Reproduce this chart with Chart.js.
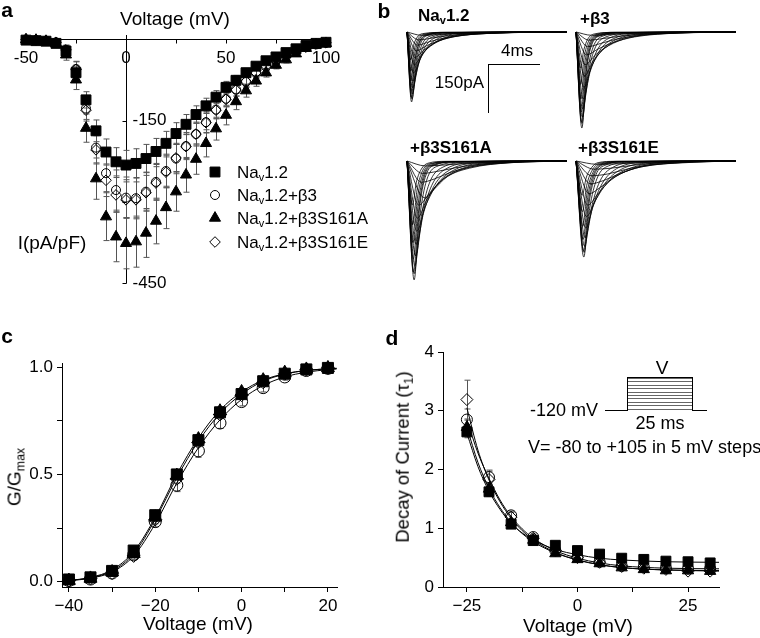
<!DOCTYPE html>
<html>
<head>
<meta charset="utf-8">
<script src="https://cdn.jsdelivr.net/npm/chart.js@4.4.1/dist/chart.umd.min.js"></script>
<style>
  html, body { margin: 0; padding: 0; background: #fff; }
  #page { position: relative; width: 760px; height: 638px; overflow: hidden;
          font-family: "Liberation Sans", Arial, sans-serif; color: #000; }
  canvas { position: absolute; }
  .t { position: absolute; white-space: nowrap; line-height: 1; }
  .c { transform: translate(-50%, -50%); }
  .l { transform: translate(0, -50%); }
  .r { transform: translate(-100%, -50%); }
  .rot { transform: translate(-50%, -50%) rotate(-90deg); }
  .b { font-weight: bold; }
  sub { font-size: 0.65em; vertical-align: -0.3em; line-height: 0; }
  .ln { position: absolute; border-color: #000; border-style: solid; border-width: 0; }
  .steps { position: absolute; border: 1px solid #000; border-bottom: none;
           background: repeating-linear-gradient(to bottom, #666 0px, #666 1px, #fff 1px, #fff 3.4px); }
</style>
</head>
<body>
<div id="page">
  <canvas id="chartA" width="380" height="300" style="left:0px;top:0px"></canvas>
  <canvas id="chartB1" width="166" height="140" style="left:404px;top:29px"></canvas>
  <canvas id="chartB2" width="166" height="140" style="left:573px;top:29px"></canvas>
  <canvas id="chartB3" width="166" height="140" style="left:404px;top:158px"></canvas>
  <canvas id="chartB4" width="166" height="140" style="left:573px;top:158px"></canvas>
  <canvas id="chartC" width="380" height="318" style="left:0px;top:320px"></canvas>
  <canvas id="chartD" width="370" height="318" style="left:390px;top:320px"></canvas>

  <!-- panel letters -->
  <div class="t c b" style="left:7px;top:9px;font-size:21px">a</div>
  <div class="t c b" style="left:384px;top:10px;font-size:21px">b</div>
  <div class="t c b" style="left:7px;top:335px;font-size:21px">c</div>
  <div class="t c b" style="left:392px;top:337px;font-size:21px">d</div>

  <!-- panel a -->
  <div class="t c" style="left:175px;top:18px;font-size:19px">Voltage (mV)</div>
  <div class="t c" style="left:52px;top:242px;font-size:19px">I(pA/pF)</div>
  <div class="t l" style="left:237px;top:172px;font-size:17px">Na<sub>v</sub>1.2</div>
  <div class="t l" style="left:237px;top:195px;font-size:17px">Na<sub>v</sub>1.2+β3</div>
  <div class="t l" style="left:237px;top:218px;font-size:17px">Na<sub>v</sub>1.2+β3S161A</div>
  <div class="t l" style="left:237px;top:242px;font-size:17px">Na<sub>v</sub>1.2+β3S161E</div>

  <!-- panel b -->
  <div class="t l b" style="left:418px;top:15px;font-size:17px">Na<sub>v</sub>1.2</div>
  <div class="t l b" style="left:580px;top:18px;font-size:17px">+β3</div>
  <div class="t l b" style="left:410px;top:147px;font-size:17px">+β3S161A</div>
  <div class="t l b" style="left:578px;top:147px;font-size:17px">+β3S161E</div>
  <div class="ln" style="left:488px;top:64px;width:52px;border-top-width:1.5px"></div>
  <div class="ln" style="left:488px;top:64px;height:49px;border-left-width:1.5px"></div>
  <div class="t c" style="left:517px;top:50px;font-size:17px">4ms</div>
  <div class="t r" style="left:484px;top:82px;font-size:17px">150pA</div>

  <!-- panel c -->
  <div class="t c" style="left:198px;top:623px;font-size:19px">Voltage (mV)</div>
  <div class="t rot" style="left:14px;top:477px;font-size:19px">G/G<sub>max</sub></div>

  <!-- panel d -->
  <div class="t c" style="left:578px;top:625px;font-size:19px">Voltage (mV)</div>
  <div class="t rot" style="left:403px;top:457px;font-size:18.5px">Decay of Current (τ<sub>1</sub>)</div>
  <div class="t c" style="left:662px;top:367px;font-size:19px">V</div>
  <div class="ln" style="left:605px;top:410px;width:22px;border-top-width:1px"></div>
  <div class="steps" style="left:627px;top:377px;width:64px;height:33px"></div>
  <div class="ln" style="left:692px;top:410px;width:15px;border-top-width:1px"></div>
  <div class="t r" style="left:598px;top:410px;font-size:18px">-120 mV</div>
  <div class="t c" style="left:660px;top:423px;font-size:18px">25 ms</div>
  <div class="t l" style="left:528px;top:447px;font-size:18px">V= -80 to +105 in 5 mV steps</div>
</div>

<script>
// ---------- panel a : current-voltage
const ivVolts = [-50,-45,-40,-35,-30,-25,-20,-15,-10,-5,0,5,10,15,20,25,30,35,40,45,50,55,60,65,70,75,80,85,90,95,100];
const ivNav   = [-2,-3,-4,-8,-22,-62,-112,-169,-208,-226,-232,-229,-220,-207,-192,-174,-157,-139,-123,-107,-89,-76,-62,-50,-40,-33,-25,-18,-12,-8,-6];
const ivB3    = [-1,-2,-3,-6,-20,-55,-128,-200,-247,-278,-292,-293,-281,-263,-243,-220,-197,-175,-153,-130,-110,-93,-79,-63,-51,-40,-32,-23,-15,-10,-7];
const ivS161A = [-1,-2,-4,-8,-29,-75,-164,-257,-327,-364,-376,-373,-357,-335,-310,-281,-250,-221,-192,-165,-140,-115,-95,-77,-62,-48,-38,-27,-17,-11,-8];
const ivS161E = [-1,-2,-3,-6,-20,-56,-131,-204,-260,-287,-296,-296,-283,-265,-245,-219,-198,-175,-154,-131,-111,-94,-78,-62,-50,-40,-31,-22,-15,-9,-7];
const ivNavErr   = [2,2,2,4,8,12,15,20,24,26,27,27,26,24,22,20,18,16,14,12,11,9,8,7,6,5,5,4,3,3,2];
const ivB3Err    = [2,2,2,4,8,14,20,28,34,37,38,38,36,34,31,28,25,22,20,17,15,12,10,9,7,6,5,4,3,3,2];
const ivS161AErr = [2,2,2,5,10,18,26,38,44,46,47,47,45,42,39,36,32,28,25,21,18,15,12,10,8,7,6,5,4,3,2];
const ivS161EErr = [2,2,2,4,9,14,20,26,30,32,33,33,32,30,28,25,22,20,18,15,13,11,9,8,7,6,5,4,3,3,2];
const ivXTicks  = [-50,-25,0,25,50,75,100];
const ivXLabels = [-50,0,50,100];
const ivYTicks  = [-150,-300,-450];
const ivYLabels = [-150,-450];

// ---------- panel b : current traces, [ms, pA]
const tracesNav = [
  [[0,0],[0.35,-214],[0.7,-90],[1.1,-30],[1.8,-8],[3,-2],[12.3,0]],
  [[0,0],[0.38,-205],[0.75,-95],[1.2,-35],[2,-10],[3.5,-2],[12.3,0]],
  [[0,0],[0.4,-190],[0.8,-100],[1.3,-40],[2.2,-12],[4,-3],[12.3,0]],
  [[0,0],[0.42,-170],[0.9,-95],[1.4,-45],[2.4,-14],[4.5,-3],[12.3,0]],
  [[0,0],[0.45,-150],[1.0,-85],[1.6,-45],[2.6,-16],[5,-3],[12.3,0]],
  [[0,0],[0.5,-125],[1.1,-75],[1.8,-42],[3,-16],[5.5,-4],[12.3,0]],
  [[0,0],[0.55,-100],[1.2,-65],[2,-38],[3.2,-16],[6,-4],[12.3,0]],
  [[0,0],[0.6,-78],[1.3,-55],[2.2,-32],[3.5,-15],[6.5,-4],[12.3,0]],
  [[0,0],[0.7,-58],[1.5,-42],[2.5,-26],[4,-12],[7,-3],[12.3,0]],
  [[0,0],[0.8,-40],[1.7,-30],[2.8,-19],[4.5,-9],[8,-2],[12.3,0]],
  [[0,0],[0.9,-24],[2,-18],[3.2,-11],[5,-5],[9,-1],[12.3,0]],
  [[0,0],[1.1,-10],[2.3,-8],[3.6,-5],[6,-2],[12.3,0]],
  [[0,0],[0.33,-200],[0.6,-95],[0.95,-35],[1.6,-9],[3,-2],[12.3,0]],
  [[0,0],[0.32,-180],[0.58,-90],[0.9,-35],[1.5,-9],[3,-2],[12.3,0]],
  [[0,0],[0.3,-150],[0.55,-75],[0.85,-30],[1.4,-8],[3,-2],[12.3,0]],
  [[0,0],[0.3,-120],[0.52,-60],[0.8,-25],[1.3,-7],[3,-1],[12.3,0]],
  [[0,0],[0.28,-85],[0.5,-42],[0.75,-18],[1.2,-5],[3,-1],[12.3,0]]
];
const tracesB3 = [
  [[0,0],[0.45,-294],[0.8,-120],[1.2,-40],[2,-10],[3.5,-2],[12.3,0]],
  [[0,0],[0.45,-280],[0.85,-130],[1.3,-48],[2.1,-12],[4,-2],[12.3,0]],
  [[0,0],[0.48,-260],[0.9,-135],[1.4,-55],[2.3,-15],[4.5,-3],[12.3,0]],
  [[0,0],[0.5,-235],[1.0,-130],[1.6,-58],[2.6,-18],[5,-3],[12.3,0]],
  [[0,0],[0.55,-205],[1.1,-120],[1.8,-58],[2.9,-20],[5.5,-4],[12.3,0]],
  [[0,0],[0.6,-170],[1.2,-105],[2,-55],[3.2,-21],[6,-4],[12.3,0]],
  [[0,0],[0.65,-135],[1.3,-90],[2.2,-50],[3.5,-21],[6.5,-4],[12.3,0]],
  [[0,0],[0.7,-100],[1.5,-70],[2.5,-42],[4,-18],[7,-4],[12.3,0]],
  [[0,0],[0.8,-70],[1.7,-52],[2.8,-33],[4.5,-15],[8,-3],[12.3,0]],
  [[0,0],[0.9,-45],[1.9,-35],[3.1,-22],[5,-10],[9,-2],[12.3,0]],
  [[0,0],[1.0,-25],[2.1,-20],[3.4,-13],[5.5,-6],[10,-1],[12.3,0]],
  [[0,0],[1.2,-10],[2.4,-8],[3.8,-5],[6,-2],[12.3,0]],
  [[0,0],[0.42,-275],[0.75,-125],[1.1,-45],[1.8,-11],[3.5,-2],[12.3,0]],
  [[0,0],[0.4,-245],[0.7,-115],[1.05,-42],[1.7,-10],[3.5,-2],[12.3,0]],
  [[0,0],[0.38,-205],[0.66,-98],[1.0,-38],[1.6,-9],[3,-2],[12.3,0]],
  [[0,0],[0.36,-160],[0.62,-78],[0.95,-30],[1.5,-8],[3,-1],[12.3,0]],
  [[0,0],[0.34,-110],[0.6,-55],[0.9,-22],[1.4,-6],[3,-1],[12.3,0]]
];
const tracesS161A = [
  [[0,0],[0.55,-364],[0.95,-150],[1.4,-50],[2.2,-12],[4,-2],[12.3,0]],
  [[0,0],[0.55,-345],[1.0,-165],[1.5,-60],[2.4,-15],[4.5,-3],[12.3,0]],
  [[0,0],[0.6,-320],[1.1,-170],[1.7,-70],[2.7,-20],[5,-3],[12.3,0]],
  [[0,0],[0.65,-290],[1.2,-165],[1.9,-75],[3,-24],[5.5,-4],[12.3,0]],
  [[0,0],[0.7,-255],[1.3,-155],[2.1,-75],[3.3,-27],[6,-5],[12.3,0]],
  [[0,0],[0.75,-215],[1.4,-140],[2.3,-72],[3.6,-28],[6.5,-5],[12.3,0]],
  [[0,0],[0.8,-175],[1.5,-120],[2.5,-65],[3.9,-28],[7,-5],[12.3,0]],
  [[0,0],[0.9,-135],[1.7,-100],[2.8,-55],[4.3,-25],[7.5,-5],[12.3,0]],
  [[0,0],[1.0,-100],[1.4,-113],[2.0,-90],[3.1,-48],[4.8,-22],[8,-5],[12.3,0]],
  [[0,0],[1.1,-65],[2.1,-55],[3.4,-34],[5.2,-16],[9,-3],[12.3,0]],
  [[0,0],[1.2,-38],[2.3,-32],[3.7,-21],[5.6,-10],[10,-2],[12.3,0]],
  [[0,0],[1.4,-15],[2.6,-13],[4,-9],[6,-4],[12.3,0]],
  [[0,0],[0.5,-340],[0.9,-150],[1.3,-52],[2.0,-13],[4,-2],[12.3,0]],
  [[0,0],[0.48,-300],[0.85,-135],[1.25,-48],[1.9,-12],[4,-2],[12.3,0]],
  [[0,0],[0.46,-250],[0.8,-115],[1.2,-42],[1.8,-10],[3.5,-2],[12.3,0]],
  [[0,0],[0.44,-195],[0.76,-92],[1.15,-34],[1.7,-9],[3.5,-2],[12.3,0]],
  [[0,0],[0.42,-135],[0.72,-65],[1.1,-25],[1.6,-7],[3,-1],[12.3,0]]
];
const tracesS161E = [
  [[0,0],[0.6,-294],[1.0,-130],[1.5,-45],[2.3,-12],[4,-2],[12.3,0]],
  [[0,0],[0.62,-280],[1.05,-145],[1.6,-55],[2.5,-15],[4.5,-3],[12.3,0]],
  [[0,0],[0.65,-260],[1.15,-150],[1.8,-65],[2.8,-20],[5,-3],[12.3,0]],
  [[0,0],[0.7,-235],[1.25,-145],[2,-70],[3.1,-24],[5.5,-4],[12.3,0]],
  [[0,0],[0.75,-205],[1.35,-135],[2.2,-70],[3.4,-27],[6,-5],[12.3,0]],
  [[0,0],[0.8,-170],[1.5,-120],[2.4,-66],[3.8,-28],[6.5,-5],[12.3,0]],
  [[0,0],[0.9,-135],[1.7,-100],[2.7,-58],[4.2,-26],[7,-5],[12.3,0]],
  [[0,0],[1.0,-100],[1.9,-80],[3,-48],[4.6,-22],[8,-5],[12.3,0]],
  [[0,0],[1.1,-70],[2.1,-60],[3.4,-38],[5,-18],[9,-4],[12.3,0]],
  [[0,0],[1.2,-45],[2.4,-40],[3.8,-26],[5.6,-12],[10,-2],[12.3,0]],
  [[0,0],[1.4,-25],[2.7,-22],[4.2,-14],[6.2,-6],[12.3,0]],
  [[0,0],[1.6,-10],[3,-9],[4.6,-6],[7,-2],[12.3,0]],
  [[0,0],[0.58,-275],[0.95,-125],[1.4,-44],[2.1,-11],[4,-2],[12.3,0]],
  [[0,0],[0.55,-240],[0.9,-112],[1.35,-40],[2.0,-10],[4,-2],[12.3,0]],
  [[0,0],[0.52,-200],[0.86,-95],[1.3,-35],[1.9,-9],[3.5,-2],[12.3,0]],
  [[0,0],[0.5,-155],[0.82,-75],[1.25,-28],[1.8,-7],[3.5,-1],[12.3,0]],
  [[0,0],[0.48,-105],[0.78,-52],[1.2,-20],[1.7,-5],[3,-1],[12.3,0]]
];

// ---------- panel c : activation G/Gmax
const gvVolts  = [-40,-35,-30,-25,-20,-15,-10,-5,0,5,10,15,20];
const gvNav    = [0.01,0.02,0.05,0.145,0.31,0.50,0.66,0.79,0.875,0.935,0.97,0.99,0.997];
const gvB3     = [0.005,0.012,0.04,0.125,0.28,0.45,0.61,0.74,0.84,0.905,0.955,0.985,0.995];
const gvS161A  = [0.005,0.015,0.045,0.13,0.30,0.495,0.665,0.795,0.885,0.94,0.975,0.99,0.997];
const gvS161E  = [0.005,0.015,0.04,0.12,0.29,0.48,0.65,0.78,0.87,0.93,0.97,0.99,0.997];
const gvNavErr   = [0.005,0.008,0.01,0.015,0.02,0.02,0.02,0.02,0.015,0.01,0.01,0.005,0.003];
const gvB3Err    = [0.005,0.008,0.012,0.02,0.025,0.03,0.03,0.025,0.02,0.02,0.015,0.008,0.004];
const gvS161AErr = [0.005,0.008,0.01,0.015,0.02,0.02,0.02,0.02,0.015,0.01,0.01,0.005,0.003];
const gvS161EErr = [0.005,0.008,0.01,0.015,0.02,0.02,0.02,0.02,0.015,0.01,0.01,0.005,0.003];
const gvFitVolts = [-42,-40,-35,-30,-25,-20,-15,-10,-5,0,5,10,15,20,22];
const gvFitA = [0.004,0.006,0.02,0.055,0.14,0.30,0.50,0.67,0.80,0.885,0.94,0.97,0.985,0.993,0.995];
const gvFitB = [0.003,0.005,0.016,0.045,0.12,0.27,0.46,0.625,0.755,0.85,0.915,0.955,0.977,0.989,0.992];
const gvFitC = [0.004,0.006,0.018,0.05,0.13,0.29,0.485,0.655,0.785,0.875,0.935,0.968,0.985,0.993,0.995];
const gvXTicks = [-40,-30,-20,-10,0,10,20];
const gvXLabels = [-40,-20,0,20];
const gvYTicks = [0,0.25,0.5,0.75,1];
const gvYLabels = [0,0.5,1];

// ---------- panel d : decay time constant
const tauVolts  = [-25,-20,-15,-10,-5,0,5,10,15,20,25,30];
const tauNav    = [2.64,1.62,1.07,0.79,0.71,0.62,0.56,0.49,0.47,0.44,0.43,0.41];
const tauB3     = [2.85,1.87,1.22,0.85,0.62,0.51,0.43,0.36,0.34,0.32,0.31,0.31];
const tauS161A  = [2.72,1.67,1.10,0.80,0.57,0.47,0.40,0.33,0.30,0.28,0.28,0.27];
const tauS161E  = [3.19,1.83,1.19,0.83,0.62,0.50,0.42,0.35,0.32,0.30,0.27,0.27];
const tauNavErr   = [0.10,0.08,0.05,0.04,0.03,0.03,0.03,0.02,0.02,0.02,0.02,0.02];
const tauB3Err    = [0.18,0.12,0.07,0.05,0.04,0.03,0.03,0.02,0.02,0.02,0.02,0.02];
const tauS161AErr = [0.12,0.08,0.06,0.04,0.03,0.03,0.02,0.02,0.02,0.02,0.02,0.02];
const tauS161EErr = [0.33,0.14,0.08,0.05,0.04,0.03,0.03,0.02,0.02,0.02,0.02,0.02];
const tauFitVolts = [-25,-22.5,-20,-17.5,-15,-12.5,-10,-5,0,5,10,20,32];
const tauFitNav   = [2.62,2.05,1.63,1.32,1.08,0.92,0.80,0.64,0.55,0.49,0.46,0.43,0.42];
const tauFitB3    = [2.85,2.28,1.85,1.48,1.20,0.99,0.83,0.62,0.49,0.41,0.36,0.32,0.31];
const tauFitS161A = [2.72,2.12,1.68,1.35,1.10,0.91,0.77,0.58,0.46,0.38,0.33,0.29,0.28];
const tauFitS161E = [3.05,2.33,1.82,1.45,1.17,0.96,0.80,0.59,0.46,0.38,0.33,0.29,0.27];
const tauXTicks = [-25,-12.5,0,12.5,25];
const tauXLabels = [-25,0,25];
const tauYTicks = [0,1,2,3,4];

// ---------- common setup
const FONT = '"Liberation Sans", Arial, sans-serif';
Chart.defaults.font.family = FONT;
Chart.defaults.color = '#000';
Chart.defaults.animation = false;
Chart.defaults.responsive = false;
Chart.defaults.events = [];
Chart.defaults.plugins.legend.display = false;
Chart.defaults.plugins.tooltip.enabled = false;

const minus = v => String(v).replace('-', '\u2212');
const pts = (xs, ys) => xs.map((x, i) => ({x: x, y: ys[i]}));

const SHAPES = {
  nav:   {pointStyle: 'rect',     fill: '#000'},
  b3:    {pointStyle: 'circle',   fill: 'rgba(0,0,0,0)'},
  s161a: {pointStyle: 'triangle', fill: '#000'},
  s161e: {pointStyle: 'rectRot',  fill: 'rgba(0,0,0,0)'}
};
const ORDER = {nav: 1, s161a: 2, s161e: 3, b3: 4};

function markers(key, xs, ys, errs, r) {
  return {
    type: 'scatter', data: pts(xs, ys), errors: errs,
    pointStyle: SHAPES[key].pointStyle, pointRadius: r[key],
    backgroundColor: SHAPES[key].fill, borderColor: '#000', borderWidth: 1,
    order: ORDER[key], clip: false
  };
}
function fitLine(xs, ys) {
  return {
    type: 'line', data: pts(xs, ys), showLine: true, pointRadius: 0,
    borderColor: '#000', borderWidth: 1, cubicInterpolationMode: 'monotone', order: 10
  };
}

// vertical error bars, drawn under the markers
const errorBars = {
  id: 'errorBars',
  beforeDatasetsDraw(chart) {
    const ctx = chart.ctx, xs = chart.scales.x, ys = chart.scales.y;
    ctx.save();
    ctx.strokeStyle = '#555';
    ctx.lineWidth = 1;
    chart.data.datasets.forEach(ds => {
      if (!ds.errors) return;
      ds.data.forEach((p, i) => {
        const e = ds.errors[i];
        if (!e) return;
        const x = Math.round(xs.getPixelForValue(p.x)) + 0.5;
        const y1 = ys.getPixelForValue(p.y - e), y2 = ys.getPixelForValue(p.y + e);
        ctx.beginPath();
        ctx.moveTo(x, y1); ctx.lineTo(x, y2);
        ctx.moveTo(x - 3, y1); ctx.lineTo(x + 3, y1);
        ctx.moveTo(x - 3, y2); ctx.lineTo(x + 3, y2);
        ctx.stroke();
      });
    });
    ctx.restore();
  }
};

// axes crossing at the origin for panel a
const crossAxes = {
  id: 'crossAxes',
  beforeDatasetsDraw(chart) {
    const {ctx, chartArea: a, scales: {x, y}} = chart;
    const x0 = Math.round(x.getPixelForValue(0)) + 0.5;
    const y0 = Math.round(y.getPixelForValue(0)) + 0.5;
    ctx.save();
    ctx.strokeStyle = '#000';
    ctx.lineWidth = 1;
    ctx.beginPath();
    ctx.moveTo(a.left, y0); ctx.lineTo(a.right, y0);
    ctx.moveTo(x0, a.top); ctx.lineTo(x0, y.getPixelForValue(-450));
    ivXTicks.forEach(v => { const px = Math.round(x.getPixelForValue(v)) + 0.5; ctx.moveTo(px, y0); ctx.lineTo(px, y0 + 4); });
    ivYTicks.forEach(v => { const py = Math.round(y.getPixelForValue(v)) + 0.5; ctx.moveTo(x0, py); ctx.lineTo(x0 - 4, py); });
    ctx.stroke();
    ctx.fillStyle = '#000';
    ctx.font = '17px ' + FONT;
    ctx.textAlign = 'center';
    ctx.textBaseline = 'middle';
    ivXLabels.forEach(v => ctx.fillText(String(v), x.getPixelForValue(v), y0 + 19));
    ctx.textAlign = 'left';
    ivYLabels.forEach(v => ctx.fillText(String(v), x0 + 6, y.getPixelForValue(v)));
    ctx.restore();
  }
};

// legend symbols for panel a
const legendA = {
  id: 'legendA',
  afterDatasetsDraw(chart) {
    const ctx = chart.ctx;
    const rows = [['nav', 172], ['b3', 195], ['s161a', 218], ['s161e', 242]];
    ctx.save();
    ctx.strokeStyle = '#000';
    ctx.lineWidth = 1;
    rows.forEach(([key, yy]) => {
      ctx.fillStyle = SHAPES[key].fill;
      Chart.helpers.drawPoint(ctx, {pointStyle: SHAPES[key].pointStyle, radius: RADIUS_A[key], rotation: 0, borderWidth: 1}, 215, yy);
    });
    ctx.restore();
  }
};

// ---------- panel a
const RADIUS_A = {nav: 7, b3: 4.5, s161a: 6.4, s161e: 5.3};
new Chart(document.getElementById('chartA'), {
  type: 'scatter',
  data: {datasets: [
    markers('nav', ivVolts, ivNav, ivNavErr, RADIUS_A),
    markers('b3', ivVolts, ivB3, ivB3Err, RADIUS_A),
    markers('s161a', ivVolts, ivS161A, ivS161AErr, RADIUS_A),
    markers('s161e', ivVolts, ivS161E, ivS161EErr, RADIUS_A)
  ]},
  options: {
    layout: {padding: {left: 22, right: 52, top: 35, bottom: 15}},
    scales: {
      x: {type: 'linear', display: false, min: -52, max: 101},
      y: {type: 'linear', display: false, min: -452.8, max: 7.4}
    }
  },
  plugins: [crossAxes, errorBars, legendA]
});

// ---------- panel b
const traceMs = 12.3;          // 160 px wide at 13 px/ms
const traceMinPA = -398;       // 130 px tall at 49 px / 150 pA
function traceChart(id, traces) {
  new Chart(document.getElementById(id), {
    type: 'scatter',
    data: {datasets: traces.map(tr => ({
      data: tr.map(p => ({x: p[0], y: p[1]})),
      showLine: true, pointRadius: 0, borderColor: '#000', borderWidth: 0.8,
      cubicInterpolationMode: 'monotone', clip: false
    }))},
    options: {
      layout: {padding: {left: 3, top: 3, right: 3, bottom: 7}},
      scales: {
        x: {type: 'linear', display: false, min: 0, max: traceMs},
        y: {type: 'linear', display: false, min: traceMinPA, max: 0}
      }
    }
  });
}
traceChart('chartB1', tracesNav);
traceChart('chartB2', tracesB3);
traceChart('chartB3', tracesS161A);
traceChart('chartB4', tracesS161E);

// ---------- shared axis builder for c and d
function axis(min, max, ticks, labels, fmt, size) {
  return {
    type: 'linear', min: min, max: max,
    afterBuildTicks: s => { s.ticks = ticks.map(v => ({value: v})); },
    afterFit: s => { if (s.isHorizontal()) s.height = size; else s.width = size; },
    ticks: {
      autoSkip: false, maxRotation: 0, padding: 4, color: '#000',
      font: {size: 17, family: FONT},
      callback: v => labels.includes(v) ? fmt(v) : ''
    },
    grid: {drawOnChartArea: false, drawTicks: true, tickLength: 5, color: '#000'},
    border: {display: true, color: '#000', width: 1}
  };
}

// ---------- panel c
const RADIUS_C = {nav: 7.8, b3: 6, s161a: 7.5, s161e: 6.5};
new Chart(document.getElementById('chartC'), {
  type: 'scatter',
  data: {datasets: [
    fitLine(gvFitVolts, gvFitA),
    fitLine(gvFitVolts, gvFitB),
    fitLine(gvFitVolts, gvFitC),
    markers('nav', gvVolts, gvNav, gvNavErr, RADIUS_C),
    markers('b3', gvVolts, gvB3, gvB3Err, RADIUS_C),
    markers('s161a', gvVolts, gvS161A, gvS161AErr, RADIUS_C),
    markers('s161e', gvVolts, gvS161E, gvS161EErr, RADIUS_C)
  ]},
  options: {
    layout: {padding: {left: 0, right: 43, top: 43, bottom: 0}},
    scales: {
      x: axis(-41.6, 22.1, gvXTicks, gvXLabels, v => minus(v), 51),
      y: axis(-0.025, 1.02, gvYTicks, gvYLabels, v => v.toFixed(1), 62)
    }
  },
  plugins: [errorBars]
});

// ---------- panel d
const RADIUS_D = {nav: 7, b3: 5.5, s161a: 6.5, s161e: 6};
new Chart(document.getElementById('chartD'), {
  type: 'scatter',
  data: {datasets: [
    fitLine(tauFitVolts, tauFitNav),
    fitLine(tauFitVolts, tauFitB3),
    fitLine(tauFitVolts, tauFitS161A),
    fitLine(tauFitVolts, tauFitS161E),
    markers('nav', tauVolts, tauNav, tauNavErr, RADIUS_D),
    markers('b3', tauVolts, tauB3, tauB3Err, RADIUS_D),
    markers('s161a', tauVolts, tauS161A, tauS161AErr, RADIUS_D),
    markers('s161e', tauVolts, tauS161E, tauS161EErr, RADIUS_D)
  ]},
  options: {
    layout: {padding: {left: 0, right: 41, top: 32, bottom: 0}},
    scales: {
      x: axis(-30.4, 32, tauXTicks, tauXLabels, v => minus(v), 51),
      y: axis(0, 4, tauYTicks, tauYTicks, v => String(v), 53)
    }
  },
  plugins: [errorBars]
});
</script>
</body>
</html>
